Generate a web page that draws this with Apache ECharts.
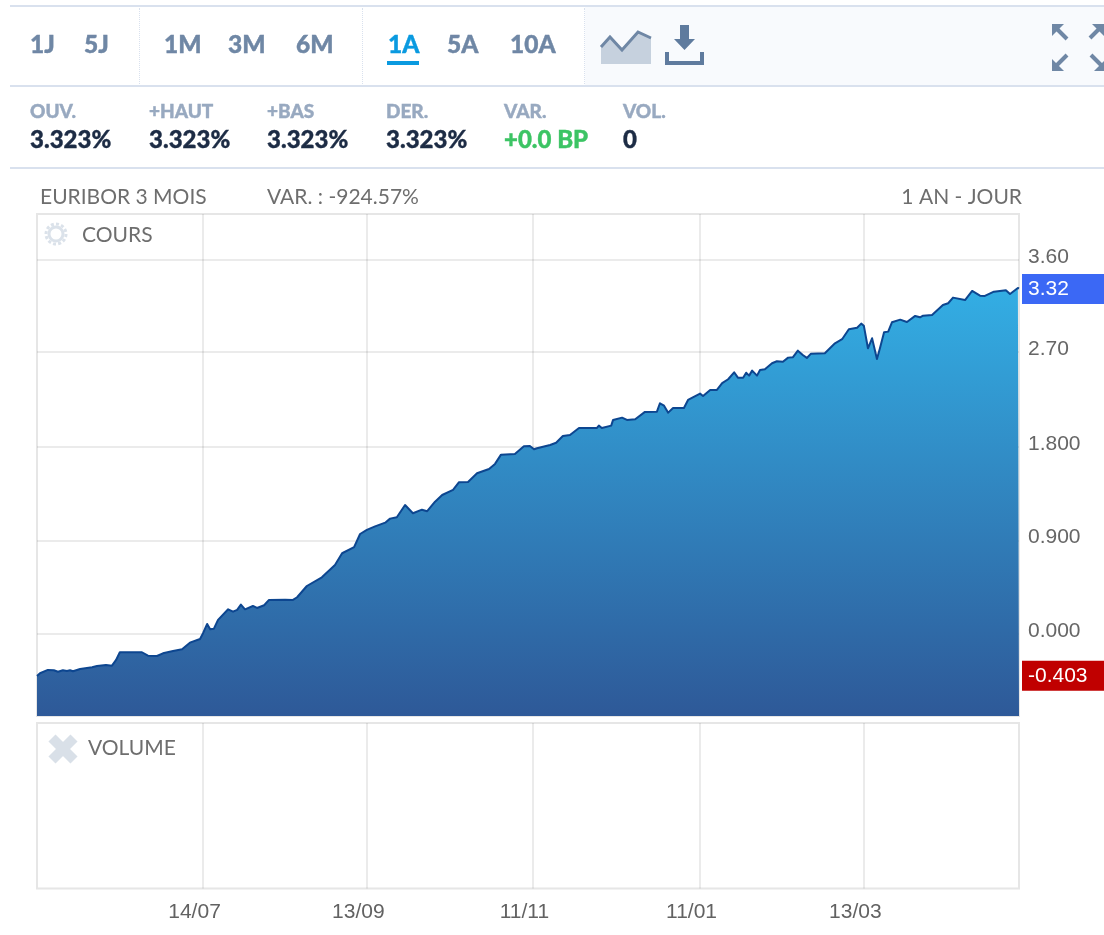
<!DOCTYPE html>
<html><head><meta charset="utf-8">
<script src="https://cdn.jsdelivr.net/npm/echarts@6/dist/echarts.min.js"></script>
<style>
html,body{margin:0;padding:0;background:#fff;overflow:hidden}
#wrap{position:relative;width:1104px;height:935px;overflow:hidden;filter:blur(0.5px)}
#chart{position:absolute;left:0;top:0;width:1104px;height:935px}
.t{position:absolute;white-space:nowrap;line-height:1;font-family:Lato,"Open Sans",sans-serif;-webkit-text-stroke:0.4px currentColor}
.rule{position:absolute;background:#d9e1ee;height:2px;left:10px;right:0}
.dot{position:absolute;top:8px;height:76px;width:0;border-left:1px dotted #d9e1ee}
svg{position:absolute;overflow:visible}
</style></head><body>
<div id="wrap">
<div id="chart"></div>
<div style="position:absolute;left:585px;right:0;top:7px;height:78px;background:#f8fafd"></div>
<div class="rule" style="top:5px"></div><div class="rule" style="top:85px"></div><div class="rule" style="top:167px"></div>
<div class="dot" style="left:139px"></div><div class="dot" style="left:362px"></div><div class="dot" style="left:584px"></div>
<div id="head"></div>
<div style="position:absolute;left:387px;top:61px;width:32px;height:4px;background:#0a9ae0"></div>
<svg style="left:0;top:0" width="1104" height="935">
  <path d="M601 47 L610 37 L622 50 L638 32 L651 38 L651 64 L601 64 Z" fill="#c6d1de"/>
  <path d="M601 47 L610 37 L622 50 L638 32 L651 38" fill="none" stroke="#6f87a5" stroke-width="3"/>
  <path d="M680 25 h9 v14 h6 l-10.500 11 l-10.500 -11 h6 Z" fill="#5f7b9e"/>
  <path d="M667 52 v11 h35 v-11" fill="none" stroke="#5f7b9e" stroke-width="4"/>
  <g fill="none" stroke="#6f87a5" stroke-width="4">
    <path d="M1054 26 L1067 39"/><path d="M1054 68 L1067 55"/><path d="M1102 26 L1090 38"/><path d="M1091 55 L1104 68"/>
  </g>
  <g fill="#6f87a5">
    <path d="M1052 24 h12 l-12 12 Z"/><path d="M1052 71 h12 l-12 -12 Z"/><path d="M1104 24 h-12 l12 12 Z"/><path d="M1106 71 h-12 l12 -12 Z"/>
  </g>
  <g fill="none" stroke="#dbe2ea">
    <circle cx="56" cy="234" r="7" stroke-width="3"/>
    <circle cx="56" cy="234" r="10" stroke-width="3" stroke-dasharray="3 2.2"/>
  </g>
  <g stroke="#d9e0e8" stroke-width="10"><path d="M52 738 L74 760"/><path d="M74 738 L52 760"/></g>
</svg>
</div>
<script>
const periodLabels=['1J','5J','1M','3M','6M','1A','5A','10A'];
const periodX=[30,84,164,228,296,388,447,510];
const statNames=['OUV.','+HAUT','+BAS','DER.','VAR.','VOL.'];
const statValues=['3.323%','3.323%','3.323%','3.323%','+0.0 BP','0'];
const statX=[30,149,267,386,504,623];
const tickSessions=[44.3,88.0,132.3,176.9,220.6];
const tickDates=['14/07','13/09','11/11','11/01','13/03'];
const yTicks=[0,0.9,1.8,2.715,3.6];
const yTickLabels=['0.000','0.900','1.800','2.70','3.60'];
const lastValue=3.323, firstValue=-0.403;
const sessions=[0,0.8,2.9,4.5,5.6,6.9,8.0,8.8,9.6,11.5,14.7,16.0,18.4,18.9,20.0,21.1,22.1,28.0,29.6,32.0,33.6,36.3,38.7,40.8,43.5,44.3,45.4,46.2,47.2,48.3,
51.0,52.3,53.4,54.4,55.5,57.6,58.7,60.6,61.9,66.2,66.7,68.3,69.4,72.0,76.0,79.5,81.4,84.6,86.2,88.0,90.2,92.9,94.2,96.0,98.2,100.3,102.7,104.1,106.2,108.1,
111.0,112.6,115.0,117.4,120.6,122.2,123.8,127.5,129.9,131.5,132.6,133.4,136.9,138.5,140.3,142.2,144.6,149.4,149.9,150.7,153.2,153.7,156.1,157.4,159.6,162.2,165.4,166.2,167.3,168.4,
169.7,172.6,173.7,176.9,177.7,179.6,181.4,182.8,184.4,186.0,187.0,188.4,189.2,190.0,190.8,192.1,192.9,194.2,196.1,197.4,199.0,200.4,201.7,203.0,204.4,205.4,206.5,210.2,212.9,214.8,
216.6,218.8,219.9,220.6,221.7,222.8,224.1,224.9,226.0,227.1,228.1,230.3,232.1,234.3,235.6,236.4,238.8,241.7,243.1,244.4,247.6,249.5,251.6,252.9,255.3,258.5,259.6,261.7,262];
const rates=[-0.403,-0.376,-0.344,-0.347,-0.361,-0.347,-0.354,-0.347,-0.357,-0.335,-0.318,-0.306,-0.296,-0.284,-0.303,-0.248,-0.174,-0.174,-0.207,-0.210,-0.184,-0.162,-0.145,-0.082,-0.046,0.009,0.098,0.047,0.053,0.137,
0.239,0.216,0.233,0.284,0.239,0.271,0.252,0.278,0.329,0.332,0.348,0.329,0.355,0.463,0.547,0.665,0.778,0.836,0.963,1.002,1.036,1.072,1.111,1.124,1.242,1.163,1.197,1.182,1.274,1.338,
1.387,1.461,1.463,1.547,1.588,1.637,1.726,1.733,1.807,1.810,1.778,1.788,1.819,1.841,1.906,1.915,1.983,1.983,2.005,1.983,2.005,2.060,2.082,2.060,2.066,2.137,2.139,2.220,2.197,2.130,
2.175,2.175,2.252,2.313,2.290,2.348,2.348,2.413,2.451,2.518,2.466,2.466,2.514,2.486,2.534,2.486,2.540,2.547,2.605,2.624,2.620,2.659,2.663,2.726,2.682,2.656,2.697,2.701,2.797,2.836,
2.932,2.947,2.986,2.966,2.749,2.845,2.646,2.749,2.903,2.909,2.999,3.024,3.002,3.060,3.047,3.062,3.069,3.165,3.182,3.236,3.213,3.300,3.255,3.252,3.293,3.307,3.271,3.329,3.323];
const volumes=[];

const head=document.getElementById('head');
function addText(txt,x,cy,size,weight,color){
  const d=document.createElement('div');d.className='t';d.textContent=txt;
  d.style.cssText=`left:${x}px;top:${cy-size/2}px;font-size:${size}px;font-weight:${weight};color:${color}`;
  head.appendChild(d);
}
periodLabels.forEach((p,i)=>addText(p,periodX[i],44,24.5,900,p==='1A'?'#0a9ae0':'#6f87a5'));
statNames.forEach((n,i)=>addText(n,statX[i],110,19,900,'#98a9c0'));
statValues.forEach((v,i)=>addText(v,statX[i],139,24,900,i===4?'#3cc464':'#1d2c45'));

const gridLine={show:true,lineStyle:{color:'rgba(0,0,0,0.08)',width:2}};
const xBase={type:'value',min:0,max:262,z:3,axisLine:{show:false},splitLine:gridLine,
  axisTick:{show:false,customValues:tickSessions}};
const font='"Liberation Sans",Arial,sans-serif';
const cap=(text,x,y,align)=>({type:'text',x,y,style:{text,fill:'#6e6e6e',font:'21px Lato,"Open Sans",sans-serif',textAlign:align||'left',textVerticalAlign:'middle'}});
const chart=echarts.init(document.getElementById('chart'),null,{renderer:'canvas'});
chart.setOption({
  animation:false,
  grid:[
    {left:37,right:85,top:214,height:502,show:true,borderColor:'#e6e6e6',borderWidth:2,backgroundColor:'#fff'},
    {left:37,right:85,top:723,height:165.5,show:true,borderColor:'#e6e6e6',borderWidth:2,backgroundColor:'#fff'}
  ],
  xAxis:[
    Object.assign({},xBase,{gridIndex:0,axisLabel:{show:false,customValues:tickSessions}}),
    Object.assign({},xBase,{gridIndex:1,axisLabel:{show:true,customValues:tickSessions,margin:13,color:'#626262',fontFamily:font,fontSize:21,padding:[0,17,0,0],
      formatter:v=>tickDates[tickSessions.indexOf(v)]}})
  ],
  yAxis:[
    {type:'value',gridIndex:0,position:'right',min:-0.787,max:4.04,z:3,axisLine:{show:false},
     axisTick:{show:false,customValues:yTicks},splitLine:gridLine,
     axisLabel:{customValues:yTicks,margin:9,color:'#666',fontFamily:font,fontSize:21,verticalAlign:'bottom',lineHeight:6,
       formatter:v=>yTickLabels[yTicks.indexOf(v)]}},
    {type:'value',gridIndex:1,min:0,max:1,show:false}
  ],
  series:[
    {type:'line',xAxisIndex:0,yAxisIndex:0,showSymbol:false,silent:true,
     data:sessions.map((s,i)=>[s,rates[i]]),
     lineStyle:{color:'#0d4690',width:2,join:'round'},
     areaStyle:{origin:'start',opacity:1,color:new echarts.graphic.LinearGradient(0,0,0,1,[
       {offset:0,color:'#33aee4'},{offset:1,color:'#2e5998'}])},
     markLine:{silent:true,symbol:'none',animation:false,lineStyle:{color:'transparent',opacity:1},
       data:[
        {yAxis:lastValue,label:{formatter:'3.32',backgroundColor:'#3b68f5'}},
        {yAxis:firstValue,label:{formatter:'-0.403',backgroundColor:'#c00000'}}
       ],
       label:{show:true,position:'end',distance:3,opacity:1,color:'#fff',fontFamily:font,fontSize:21,width:76,height:30,lineHeight:30,padding:[0,0,0,6],align:'left'}}
    },
    {type:'bar',xAxisIndex:1,yAxisIndex:1,data:volumes}
  ],
  graphic:[
    cap('EURIBOR 3 MOIS',40,197),cap('VAR. : -924.57%',267,197),cap('1 AN - JOUR',1022,197,'right'),
    cap('COURS',82,235),cap('VOLUME',88,748)
  ]
});
</script>
</body></html>
